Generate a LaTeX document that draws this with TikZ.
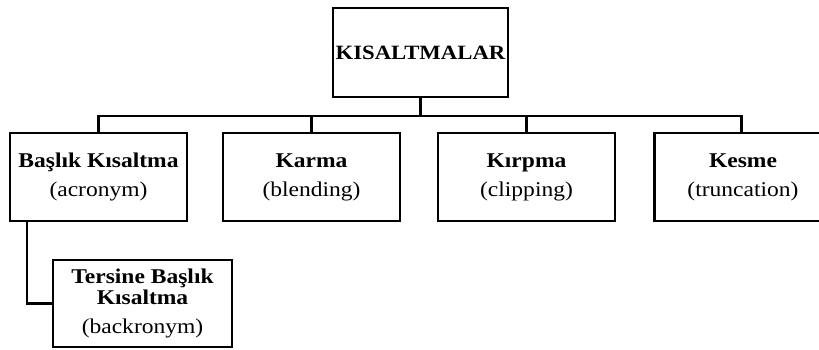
\documentclass[tikz,border=0pt]{standalone}
\usepackage{fontspec}
\setmainfont{Liberation Serif}[FakeStretch=1.12]
\begin{document}
\begin{tikzpicture}[x=1pt,y=-1pt,
  box/.style={draw=black,line width=2.4pt,rectangle,inner sep=0pt,align=center,
    font=\fontsize{21}{21}\selectfont,minimum width=177pt,minimum height=88pt},
  conn/.style={draw=black,line width=2.2pt}]
\clip (0,0) rectangle (819,349);
\node[box,minimum width=175pt,minimum height=89pt,font=\fontsize{20.3}{20.3}\selectfont] (top) at (420.5,52.5) {\bfseries KISALTMALAR};
\node[box] (b1) at (98.5,177) {\textbf{Başlık Kısaltma}\\[8pt](acronym)};
\node[box] (b2) at (311.5,177) {\textbf{Karma}\\[8pt](blending)};
\node[box] (b3) at (526.5,177) {\textbf{Kırpma}\\[8pt](clipping)};
\node[box] (b4) at (743,177) {\textbf{Kesme}\\[8pt](truncation)};
\node[box,minimum width=179pt,minimum height=87pt] (t) at (142.5,303.5) {\textbf{Tersine Başlık}\\[0pt]\textbf{Kısaltma}\\[8pt](backronym)};
\coordinate (bus) at (0,116);
\draw[conn] (top.south) -- (top.south |- bus) -| (b1.north);
\draw[conn] (top.south) -- (top.south |- bus) -| (b2.north);
\draw[conn] (top.south) -- (top.south |- bus) -| (b3.north);
\draw[conn] (top.south) -- (top.south |- bus) -| ([xshift=-1.5pt]b4.north);
\draw[conn] ([xshift=18pt]b1.south west) |- (t.west);
\end{tikzpicture}
\end{document}
